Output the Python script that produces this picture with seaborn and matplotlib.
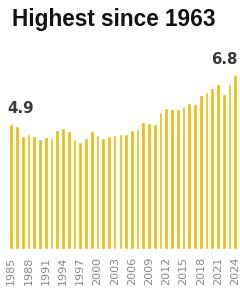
import matplotlib
matplotlib.use("Agg")
import matplotlib.pyplot as plt
import seaborn as sns
import pandas as pd

# Years and values
years = list(range(1985, 2025))
values = [4.9, 4.8, 4.41, 4.48, 4.41, 4.30, 4.37, 4.33, 4.66, 4.72,
          4.60, 4.30, 4.18, 4.33, 4.60, 4.44, 4.34, 4.40, 4.45, 4.49,
          4.49, 4.66, 4.69, 4.96, 4.93, 4.89, 5.36, 5.49, 5.46, 5.46,
          5.60, 5.69, 5.65, 6.02, 6.12, 6.30, 6.43, 6.04, 6.45, 6.8]
tick_years = years[::3]
title = "Highest since 1963"

bar_color = "#e6bd0a"

df = pd.DataFrame({"Year": years, "Value": values})

sns.set_theme(style="white")
fig = plt.figure(figsize=(2.4, 2.91), dpi=100)
ax = fig.add_axes([0.035, 0.1443, 0.957, 0.616])

sns.barplot(data=df, x="Year", y="Value", color=bar_color, saturation=1,
            width=0.65, ax=ax)

ax.set_xlim(-0.5, len(years) - 0.5)
ax.set_ylim(0, 7)
ax.set_xlabel("")
ax.set_ylabel("")
ax.set_yticks([])

tick_pos = [years.index(y) for y in tick_years]
ax.set_xticks(tick_pos)
ax.set_xticklabels([str(y) for y in tick_years], rotation=90,
                   fontsize=8, color="#888888", family="DejaVu Sans")
ax.tick_params(axis="x", length=0, pad=5.5)
sns.despine(ax=ax, left=True, bottom=True)

# first and last value labels
ax.text(-0.6, values[0] + 0.42, f"{values[0]:.1f}", ha="left", va="baseline",
        fontsize=10.8, fontweight="bold", color="#3a3a3a",
        family="DejaVu Sans", clip_on=False)
ax.text(len(years) - 0.55, values[-1] + 0.42, f"{values[-1]:.1f}",
        ha="right", va="baseline", fontsize=10.8, fontweight="bold",
        color="#3a3a3a", family="DejaVu Sans", clip_on=False)

fig.text(0.05, 0.9107, title, ha="left", va="baseline", fontsize=16.3,
         fontweight="bold", color="#111111", family="Liberation Sans")

fig.savefig("out.png", dpi=100)
